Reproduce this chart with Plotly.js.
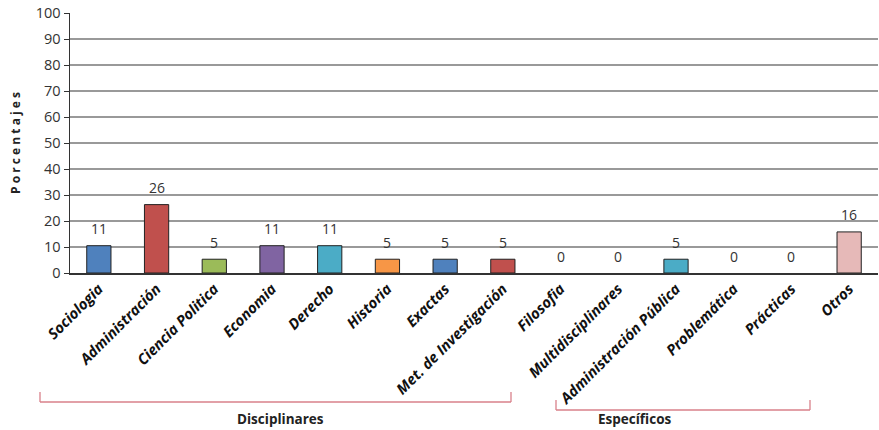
<!DOCTYPE html>
<html><head><meta charset="utf-8">
<script src="https://cdn.plot.ly/plotly-3.0.1.min.js"></script>
<style>body{margin:0;background:#fff}#c{width:879px;height:430px}</style>
</head><body><div id="c"></div>
<script>
const categories = ["Sociologia","Administración","Ciencia Politica","Economia","Derecho","Historia","Exactas","Met. de Investigación","Filosofia","Multidisciplinares","Administración Pública","Problemática","Prácticas","Otros"];
const values = [10.5,26.3,5.3,10.5,10.5,5.3,5.3,5.3,0,0,5.3,0,0,15.8];
const labels = ["11","26","5","11","11","5","5","5","0","0","5","0","0","16"];
const colors = ["#4F81BD","#C0504D","#9BBB59","#8064A2","#4BACC6","#F79646","#4F81BD","#C0504D","#4F81BD","#4F81BD","#4BACC6","#4F81BD","#4F81BD","#E6B9B8"];
const groups = ["Disciplinares","Específicos"];

const font = "Open Sans, Lato, sans-serif";
const trace = {
  type:"bar", x:categories, y:values, width:0.42,
  marker:{color:colors, line:{color:"#222", width:values.map(v=>v>0?1:0)}},
  hoverinfo:"none"
};
const ann = categories.map((c,i)=>({
  x:c, y:values[i], xref:"x", yref:"y", text:labels[i], showarrow:false,
  yanchor:"middle", yshift:17, font:{family:font, size:14, color:"#333"}
}));
const br = "#D9808A";
const px = p => (p-70)/808, py = p => (273-p)/260;
const seg = (x0,y0,x1,y1)=>({type:"line", xref:"paper", yref:"paper", x0:px(x0), y0:py(y0), x1:px(x1), y1:py(y1), line:{color:br, width:1.3}});
const shapes = [
  seg(40,392,40,402), seg(40,402,511,402), seg(511,402,511,392),
  seg(556,400,556,410), seg(556,410,810,410), seg(810,410,810,400)
];
ann.push({xref:"paper", yref:"paper", x:px(235), y:py(419), yanchor:"middle", text:"<b>"+groups[0]+"</b>", showarrow:false, font:{family:font, size:13.5, color:"#222"}});
ann.push({xref:"paper", yref:"paper", x:px(673), y:py(419), yanchor:"middle", text:"<b>"+groups[1]+"</b>", showarrow:false, font:{family:font, size:13.5, color:"#222"}});

const layout = {
  width:879, height:430, margin:{l:70, r:1, t:13, b:157},
  paper_bgcolor:"#fff", plot_bgcolor:"#fff", showlegend:false,
  xaxis:{type:"category", tickangle:-45, showline:true, linecolor:"#333", linewidth:1.5,
    ticks:"", showgrid:false, tickfont:{family:font, size:14.8, color:"#111", weight:"bold", style:"italic"}},
  yaxis:{range:[0,100], dtick:10, showline:true, linecolor:"#333", linewidth:1.5,
    ticks:"outside", ticklen:5, tickcolor:"#333", gridcolor:"#999", gridwidth:1.2, zeroline:false,
    tickfont:{family:font, size:14.5, color:"#333"},
    title:{text:"<b>P o r c e n t a j e s</b>", font:{family:font, size:12, color:"#222"}, standoff:12}},
  annotations:ann, shapes:shapes
};
Plotly.newPlot("c",[trace],layout,{displayModeBar:false, staticPlot:true});
</script></body></html>
